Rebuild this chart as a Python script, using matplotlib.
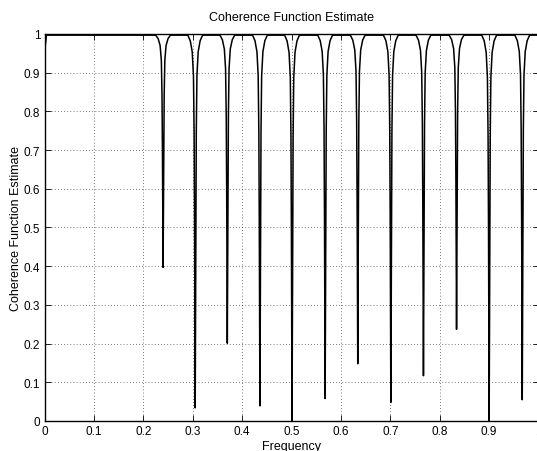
import numpy as np
import matplotlib
matplotlib.use("Agg")
import matplotlib.pyplot as plt

# dip centres and minimum coherence
dip_freq = [0.240, 0.305, 0.370, 0.436, 0.501, 0.568, 0.634, 0.701, 0.767, 0.834, 0.900, 0.967]
dip_min = [0.397, 0.034, 0.201, 0.039, 0.0, 0.058, 0.148, 0.048, 0.117, 0.237, 0.0, 0.055]

# shape of one dip: offset from centre and fraction of the depth still left
profile_offset = [0.0, 0.0006, 0.0013, 0.0022, 0.0035, 0.006, 0.010, 0.015]
profile_frac = [1.0, 0.8, 0.5, 0.26, 0.11, 0.045, 0.015, 0.0]

baseline = 0.997
start_freq = [0.0, 0.0015, 0.004]
start_val = [0.0, 0.97, baseline]

xticks = [0, 0.1, 0.2, 0.3, 0.4, 0.5, 0.6, 0.7, 0.8, 0.9, 1]
xtick_labels = ["0", "0.1", "0.2", "0.3", "0.4", "0.5", "0.6", "0.7", "0.8", "0.9", "1"]
yticks = [0, 0.1, 0.2, 0.3, 0.4, 0.5, 0.6, 0.7, 0.8, 0.9, 1]
ytick_labels = ["0", "0.1", "0.2", "0.3", "0.4", "0.5", "0.6", "0.7", "0.8", "0.9", "1"]

# build the line from the start points and the dips
freq = list(start_freq)
coh = list(start_val)
for f0, m in zip(dip_freq, dip_min):
    depth = baseline - m
    for off, fr in zip(profile_offset[::-1], profile_frac[::-1]):
        freq.append(f0 - off)
        coh.append(baseline - depth * fr)
    for off, fr in zip(profile_offset[1:], profile_frac[1:]):
        freq.append(f0 + off)
        coh.append(baseline - depth * fr)
freq.append(1.0)
coh.append(baseline)

plt.rcParams['font.family'] = ['Liberation Sans', 'DejaVu Sans']

fig = plt.figure(figsize=(5.37, 4.52), dpi=100)
ax = fig.add_axes([0.0829, 0.0664, 0.92, 0.8562])

ax.plot(freq, coh, color="black", linewidth=1.1)

ax.set_xlim(0, 1)
ax.set_ylim(0, 1)
ax.set_xticks(xticks)
ax.set_xticklabels(xtick_labels)
ax.set_yticks(yticks)
ax.set_yticklabels(ytick_labels)
ax.tick_params(direction="in", top=True, right=True, length=4, width=0.6,
               labelsize=8.5, pad=3)
ax.grid(True, color="black", linestyle=(0, (1, 3.5)), linewidth=0.5)
for s in ax.spines.values():
    s.set_linewidth(1.0)

ax.set_title("Coherence Function Estimate", fontsize=9, pad=10)
ax.set_xlabel("Frequency", fontsize=9, labelpad=2)
ax.set_ylabel("Coherence Function Estimate", fontsize=9, labelpad=1.5)

fig.savefig("out.png", dpi=100)
